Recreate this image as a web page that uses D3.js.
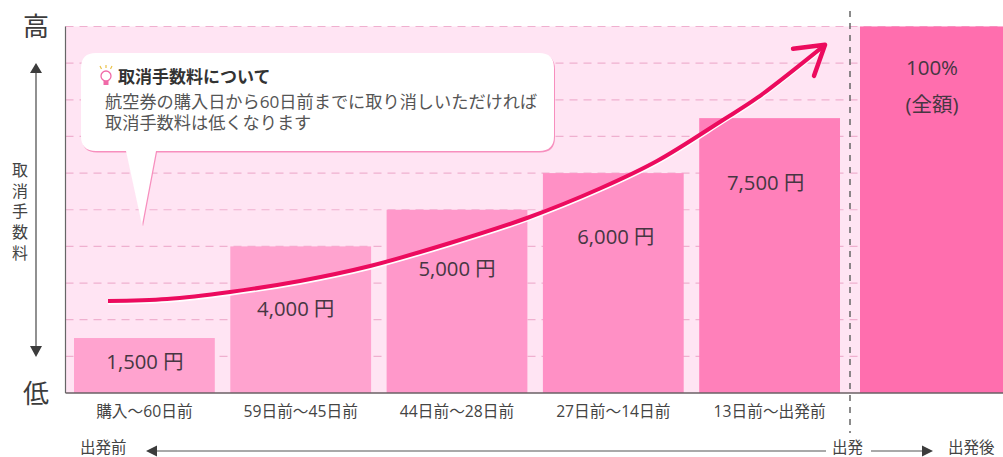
<!DOCTYPE html>
<html><head><meta charset="utf-8">
<script src="https://cdn.jsdelivr.net/npm/d3@7/dist/d3.min.js"></script>
<style>html,body{margin:0;background:#fff}svg{display:block}text{font-family:"Open Sans","Noto Sans CJK JP",sans-serif;fill:#444}</style>
</head><body><svg id="c" width="1003" height="457"></svg>
<script>
const categories=["購入〜60日前","59日前〜45日前","44日前〜28日前","27日前〜14日前","13日前〜出発前"];
const fees=[1500,4000,5000,6000,7500];
const feeLabels=["1,500 円","4,000 円","5,000 円","6,000 円","7,500 円"];
const feeColors=["#ffa3cf","#ffa3cf","#ff98ca","#ff90c5","#ff80ba"];
const afterCategory="出発後";
const afterFee=10000;
const afterLabels=["100%","(全額)"];
const afterColor="#ff6eae";
const gridTicks=[1000,2000,3000,4000,5000,6000,7000,8000,9000,10000];
const curvePos=[0.2175,0.595,0.998,1.446,1.894,2.406,2.898,3.365,3.73,4.152,4.37,4.805];
const curveFee=[2510,2565,2756,3056,3465,4092,4775,5580,6330,7450,8050,9500];
const noteTitle="取消手数料について";
const noteLines=["航空券の購入日から60日前までに取り消しいただければ","取消手数料は低くなります"];

const svg=d3.select("#c");
const L=65.5,R=1003,T=26.5,B=393;
const y=d3.scaleLinear().domain([0,10000]).range([B,T]);
const x=d3.scaleBand().domain(categories).range([74,840]).paddingInner(0.0992);
const xAfter=d3.scaleBand().domain([afterCategory]).range([860,1003]);
const xPos=d3.scaleLinear().domain([0,5]).range([74,74+5*x.step()]);

svg.append("rect").attr("x",L).attr("y",T).attr("width",R-L).attr("height",B-T).attr("fill","#ffe4f3");
svg.append("g").selectAll("line").data(gridTicks).join("line")
 .attr("x1",L).attr("x2",R).attr("y1",d=>y(d)).attr("y2",d=>y(d))
 .attr("stroke","#efb0cf").attr("stroke-width",1.2).attr("stroke-dasharray","8 6");

svg.append("g").selectAll("rect").data(fees).join("rect")
 .attr("x",(d,i)=>x(categories[i])).attr("width",x.bandwidth())
 .attr("y",d=>y(d)).attr("height",d=>y(0)-y(d)).attr("fill",(d,i)=>feeColors[i]);
svg.append("rect").attr("x",xAfter(afterCategory)).attr("width",xAfter.bandwidth())
 .attr("y",y(afterFee)).attr("height",y(0)-y(afterFee)).attr("fill",afterColor);

svg.append("line").attr("x1",L).attr("x2",L).attr("y1",T).attr("y2",B).attr("stroke","#666").attr("stroke-width",1.2);
svg.append("line").attr("x1",L).attr("x2",R).attr("y1",B).attr("y2",B).attr("stroke","#6a6064").attr("stroke-width",1.6);

svg.append("line").attr("x1",850).attr("x2",850).attr("y1",11).attr("y2",433)
 .attr("stroke","#666").attr("stroke-width",1.5).attr("stroke-dasharray","6 6");

const labelY=[361,308,268,236,182];
const labelDx=[0.5,-5,0,2.5,-4];
svg.append("g").selectAll("text").data(feeLabels).join("text")
 .attr("x",(d,i)=>x(categories[i])+x.bandwidth()/2+labelDx[i]).attr("y",(d,i)=>labelY[i]+7.5)
 .attr("text-anchor","middle").attr("font-size",20.3).attr("style","fill:#463642").text(d=>d);
const cx=xAfter(afterCategory)+xAfter.bandwidth()/2+0.5;
svg.selectAll("text.a").data(afterLabels).join("text").attr("class","a")
 .attr("x",cx).attr("y",(d,i)=>75+i*37).attr("text-anchor","middle").attr("font-size",(d,i)=>i?20.5:20.5).attr("style","fill:#463642").text(d=>d);

svg.append("g").selectAll("text").data(categories).join("text")
 .attr("x",d=>x(d)+x.bandwidth()/2).attr("y",417).attr("text-anchor","middle").attr("font-size",15.7).text(d=>d);

const line=d3.line().x((d,i)=>xPos(curvePos[i])).y(d=>y(d)).curve(d3.curveCatmullRom.alpha(0.5));
svg.append("path").attr("d",line(curveFee)).attr("transform","translate(0,1.8)").attr("fill","none").attr("stroke","#fff").attr("stroke-width",3.8);
svg.append("path").attr("d",line(curveFee)).attr("fill","none").attr("stroke","#ec0b5e").attr("stroke-width",4);
const n=curveFee.length-1, tipX=xPos(curvePos[n]), tipY=y(curveFee[n]);
svg.append("path").attr("d",d3.line()([[tipX-32,tipY+4],[tipX,tipY],[tipX-11,tipY+31]]))
 .attr("fill","none").attr("stroke","#ec0b5e").attr("stroke-width",4.5).attr("stroke-linecap","round").attr("stroke-linejoin","round");

const bub="M96,53 H539 Q554,53 554,68 V136 Q554,151 539,151 H156 L142,225 L126,151 H96 Q81,151 81,136 V68 Q81,53 96,53 Z";
svg.append("path").attr("d",bub).attr("transform","translate(1,1.5)").attr("fill","#f78fbe");
svg.append("path").attr("d",bub).attr("fill","#fff");
const ic=svg.append("g").attr("transform","translate(106,0)");
ic.append("circle").attr("cx",0).attr("cy",76).attr("r",5).attr("fill","#fff").attr("stroke","#f06aa8").attr("stroke-width",1.3);
ic.append("path").attr("d","M-2.5,81 H2.5 V85 H-2.5 Z").attr("fill","#f06aa8");
ic.append("path").attr("d","M-6,66 L-4.5,69 M0,65 V68 M6,66 L4.5,69").attr("stroke","#e9c24a").attr("stroke-width",1.2);
svg.append("text").attr("x",118).attr("y",82.5).attr("font-size",17).attr("font-weight",700).attr("style","fill:#333").text(noteTitle);
svg.selectAll("text.n").data(noteLines).join("text").attr("class","n").attr("x",105).attr("y",(d,i)=>108+i*21).attr("font-size",17.2).attr("style","fill:#555").text(d=>d);

svg.append("text").attr("x",36).attr("y",36).attr("text-anchor","middle").attr("font-size",26).attr("style","fill:#3c3c3c").text("高");
svg.append("text").attr("x",36).attr("y",403).attr("text-anchor","middle").attr("font-size",26).attr("style","fill:#3c3c3c").text("低");
svg.append("g").selectAll("text").data(["取","消","手","数","料"]).join("text")
 .attr("x",20).attr("y",(d,i)=>176+i*20.7).attr("text-anchor","middle").attr("font-size",16).text(d=>d);
svg.append("line").attr("x1",36).attr("x2",36).attr("y1",70).attr("y2",348).attr("stroke","#555").attr("stroke-width",1.3);
svg.append("path").attr("d","M36,63 L42,73 H30 Z M36,357 L42,346 H30 Z").attr("fill","#3c3c3c");

svg.append("text").attr("x",80).attr("y",452.5).attr("font-size",15.5).text("出発前");
svg.append("line").attr("x1",150).attr("x2",826).attr("y1",451).attr("y2",451).attr("stroke","#555").attr("stroke-width",1.2);
svg.append("path").attr("d","M146,451 L157,445.5 V456.5 Z").attr("fill","#3c3c3c");
svg.append("text").attr("x",832).attr("y",452.5).attr("font-size",15.5).text("出発");
svg.append("line").attr("x1",871).attr("x2",925).attr("y1",451).attr("y2",451).attr("stroke","#555").attr("stroke-width",1.2);
svg.append("path").attr("d","M933,451 L922,445.5 V456.5 Z").attr("fill","#3c3c3c");
svg.append("text").attr("x",948).attr("y",452.5).attr("font-size",15.5).text(afterCategory);
</script></body></html>
